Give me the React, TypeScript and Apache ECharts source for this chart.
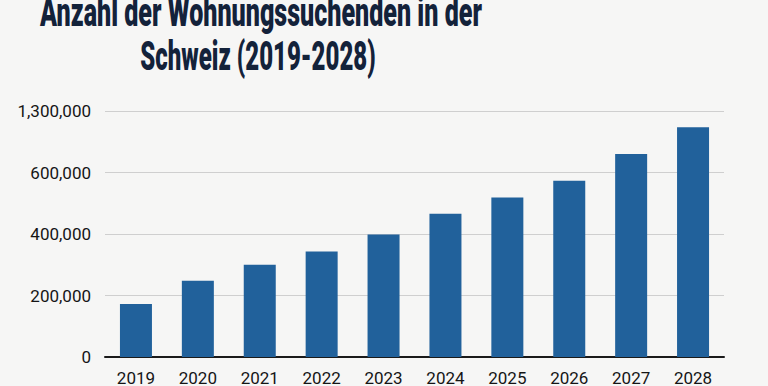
import React, { useEffect, useRef } from "react";
import * as echarts from "echarts";

const titleLines = ["Anzahl der Wohnungssuchenden in der", "Schweiz (2019-2028)"];
const years = ["2019", "2020", "2021", "2022", "2023", "2024", "2025", "2026", "2027", "2028"];
const seekers = [172000, 248000, 300000, 343000, 398000, 466000, 519000, 573000, 660000, 747000];
const yTickLabels = ["0", "200,000", "400,000", "600,000", "1,300,000"];
const yStep = 200000;

export default function App() {
  const ref = useRef<HTMLDivElement>(null);
  useEffect(() => {
    if (!ref.current) return;
    const chart = echarts.init(ref.current, null, { renderer: "svg" });
    const titleStyle = {
      font: "900 40px Roboto, 'DejaVu Sans', sans-serif",
      fill: "#13223a",
      align: "center",
      verticalAlign: "middle",
    };
    chart.setOption({
      animation: false,
      backgroundColor: "#f6f6f5",
      graphic: [
        {
          type: "text",
          x: 261,
          y: 12,
          scaleX: 0.627,
          style: { ...titleStyle, text: titleLines[0] },
        },
        {
          type: "text",
          x: 258,
          y: 56,
          scaleX: 0.6,
          style: { ...titleStyle, text: titleLines[1] },
        },
      ],
      grid: { left: 105, right: 44, top: 111, bottom: 27, containLabel: false },
      xAxis: {
        type: "category",
        data: years,
        axisLine: { lineStyle: { color: "#1a1a1a", width: 2 } },
        axisTick: { show: false },
        axisLabel: {
          margin: 12,
          fontFamily: "Roboto, sans-serif",
          fontSize: 17,
          color: "#151515",
        },
      },
      yAxis: {
        type: "value",
        min: 0,
        max: yStep * (yTickLabels.length - 1),
        interval: yStep,
        axisLine: { show: false },
        axisTick: { show: false },
        splitLine: { lineStyle: { color: "#cfcfcf", width: 1 } },
        axisLabel: {
          margin: 14,
          fontFamily: "Roboto, sans-serif",
          fontSize: 17,
          color: "#151515",
          formatter: (v: number) => yTickLabels[Math.round(v / yStep)] ?? "",
        },
      },
      series: [
        {
          type: "bar",
          data: seekers,
          barWidth: 32,
          itemStyle: { color: "#21619b" },
        },
      ],
    });
    return () => chart.dispose();
  }, []);
  return (
    <div
      ref={ref}
      style={{ position: "absolute", left: 0, top: 0, width: 768, height: 386 }}
    />
  );
}
